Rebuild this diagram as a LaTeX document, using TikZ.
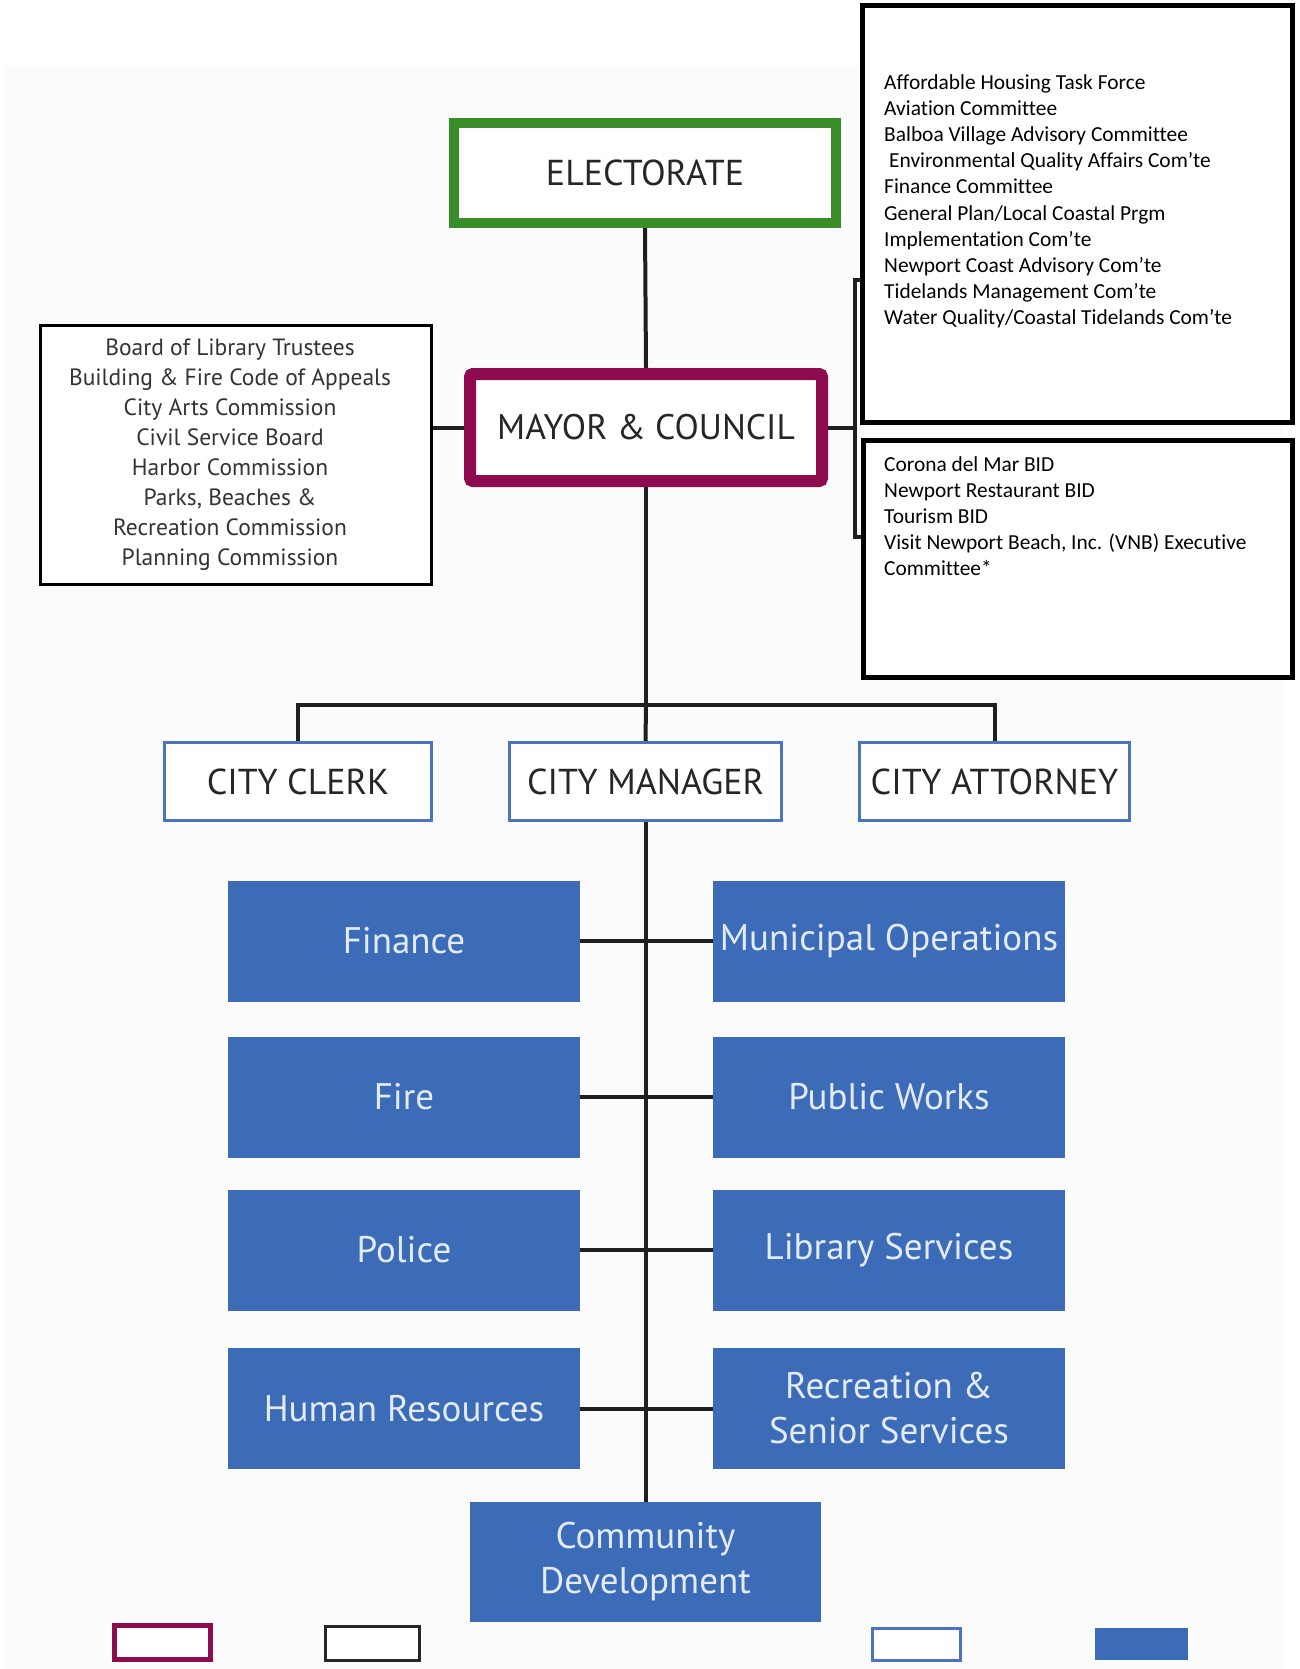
\documentclass[tikz,border=0pt]{standalone}
\usepackage{fontspec}
\setmainfont{PT Sans}
\newfontfamily\calfont{Carlito}[Ligatures=NoCommon]
\definecolor{elecgreen}{HTML}{3A8E2A}
\definecolor{maroon}{HTML}{8E0B4F}
\definecolor{boxblue}{HTML}{3C6BB8}
\definecolor{lineblue}{HTML}{4A74C0}
\definecolor{paleblue}{HTML}{E2EBF7}
\definecolor{darktext}{HTML}{262626}
\definecolor{graytext}{HTML}{333333}
\begin{document}
\begin{tikzpicture}[x=1pt,y=-1pt,
  conn/.style={line width=4pt,black!88},
  elecbox/.style={draw=elecgreen,line width=10pt,fill=white,minimum width=382pt,minimum height=100pt,inner sep=0pt,text=darktext,font=\fontsize{36}{38}\selectfont},
  mayorbox/.style={draw=maroon,line width=12pt,rounded corners=3pt,fill=white,minimum width=352pt,minimum height=107pt,inner sep=0pt,text=darktext,font=\fontsize{35.5}{38}\selectfont},
  listbox/.style={draw=black,line width=3pt,fill=white,inner sep=0pt},
  sidebox/.style={draw=black,line width=5pt,fill=white,inner sep=0pt},
  citybox/.style={draw=lineblue,line width=3pt,fill=white,minimum height=78pt,inner sep=0pt,text=darktext,font=\fontsize{36}{38}\selectfont},
  deptbox/.style={fill=boxblue,minimum width=352pt,minimum height=121pt,inner sep=0pt,text=paleblue,align=center,font=\fontsize{37}{45}\selectfont},
  calitext/.style={inner sep=0pt,anchor=north west,align=left,text=black,font=\calfont\fontsize{21.4}{26.2}\selectfont},
  graylist/.style={inner sep=0pt,align=center,text=graytext,font=\fontsize{23.5}{30}\selectfont}
]
\useasboundingbox (0,0) rectangle (1299,1669);
\fill[white] (0,0) rectangle (1299,1669);
\fill[black!1.5] (4,66) rectangle (1283,1669);

% top nodes
\node[elecbox] (elec) at (645,173) {ELECTORATE};
\node[mayorbox] (mayor) at (646,427.5) {MAYOR \& COUNCIL};

% left commission box
\node[listbox,minimum width=391pt,minimum height=259pt] (comm) at (236,455) {};
\node[graylist] (commtext) at (230,455) {Board of Library Trustees\\Building \& Fire Code of Appeals\\City Arts Commission\\Civil Service Board\\Harbor Commission\\Parks, Beaches \&\\Recreation Commission\\Planning Commission};

% right boxes
\node[sidebox,minimum width=430pt,minimum height=417pt] (committees) at (1077.5,214) {};
\node[calitext] (committeestext) at (884,74) {Affordable Housing Task Force\\Aviation Committee\\Balboa Village Advisory Committee\\\hspace{5pt}Environmental Quality Affairs Com’te\\Finance Committee\\General Plan/Local Coastal Prgm\\Implementation Com’te\\Newport Coast Advisory Com’te\\Tidelands Management Com’te\\Water Quality/Coastal Tidelands Com’te};
\node[sidebox,minimum width=429pt,minimum height=237pt] (bids) at (1078,559) {};
\node[calitext] (bidstext) at (884,456) {Corona del Mar BID\\Newport Restaurant BID\\Tourism BID\\Visit Newport Beach, Inc. (VNB) Executive\\Committee*};

% city officers
\node[citybox,minimum width=267pt] (clerk) at (298,781.5) {CITY CLERK};
\node[citybox,minimum width=272pt] (manager) at (645.5,781.5) {CITY MANAGER};
\node[citybox,minimum width=270pt] (attorney) at (994.5,781.5) {CITY ATTORNEY};

% departments
\node[deptbox] (finance) at (404,941) {Finance};
\node[deptbox] (municipal) at (889,941) {Municipal Operations};
\node[deptbox] (fire) at (404,1097) {Fire};
\node[deptbox] (works) at (889,1097) {Public Works};
\node[deptbox] (police) at (404,1250) {Police};
\node[deptbox] (library) at (889,1250) {Library Services};
\node[deptbox] (hr) at (404,1408.5) {Human Resources};
\node[deptbox] (recreation) at (889,1408.5) {Recreation \&\\Senior Services};
\node[deptbox,minimum width=351pt,minimum height=120pt] (cd) at (645.5,1562) {Community\\Development};

% coordinates
\coordinate (bus) at (646,705);
\coordinate (brtop) at (855,280);
\coordinate (brbot) at (855,537);

% connectors
\draw[conn] (elec.south) -- (mayor.north);
\draw[conn] (comm.east |- mayor.west) -- (mayor.west);
\draw[conn] (mayor.east) -- (mayor.east -| brtop);
\draw[conn] ([xshift=6pt]brtop) -- (brtop) -- (brbot) -- ([xshift=6pt]brbot);
\draw[conn] (mayor.south) -- (bus);
\draw[conn] (clerk.north) |- (bus) -| (attorney.north);
\draw[conn] (manager.south) -- (cd.north);
\draw[conn] (bus) -- (manager.north);
\draw[conn] (finance.east) -- (municipal.west);
\draw[conn] (fire.east) -- (works.west);
\draw[conn] (police.east) -- (library.west);
\draw[conn] (hr.east) -- (recreation.west);

% legend
\node[draw=maroon,line width=5pt,fill=white,minimum width=96pt,minimum height=34pt,inner sep=0pt] (legmaroon) at (162.5,1642.5) {};
\node[draw=black!85,line width=3pt,fill=white,minimum width=94pt,minimum height=34pt,inner sep=0pt] (legblack) at (372.5,1643.5) {};
\node[draw=lineblue,line width=3pt,fill=white,minimum width=88pt,minimum height=32pt,inner sep=0pt] (legoutline) at (916.5,1644.5) {};
\node[fill=boxblue,minimum width=93pt,minimum height=32pt,inner sep=0pt] (legfill) at (1141.5,1644) {};
\end{tikzpicture}
\end{document}
